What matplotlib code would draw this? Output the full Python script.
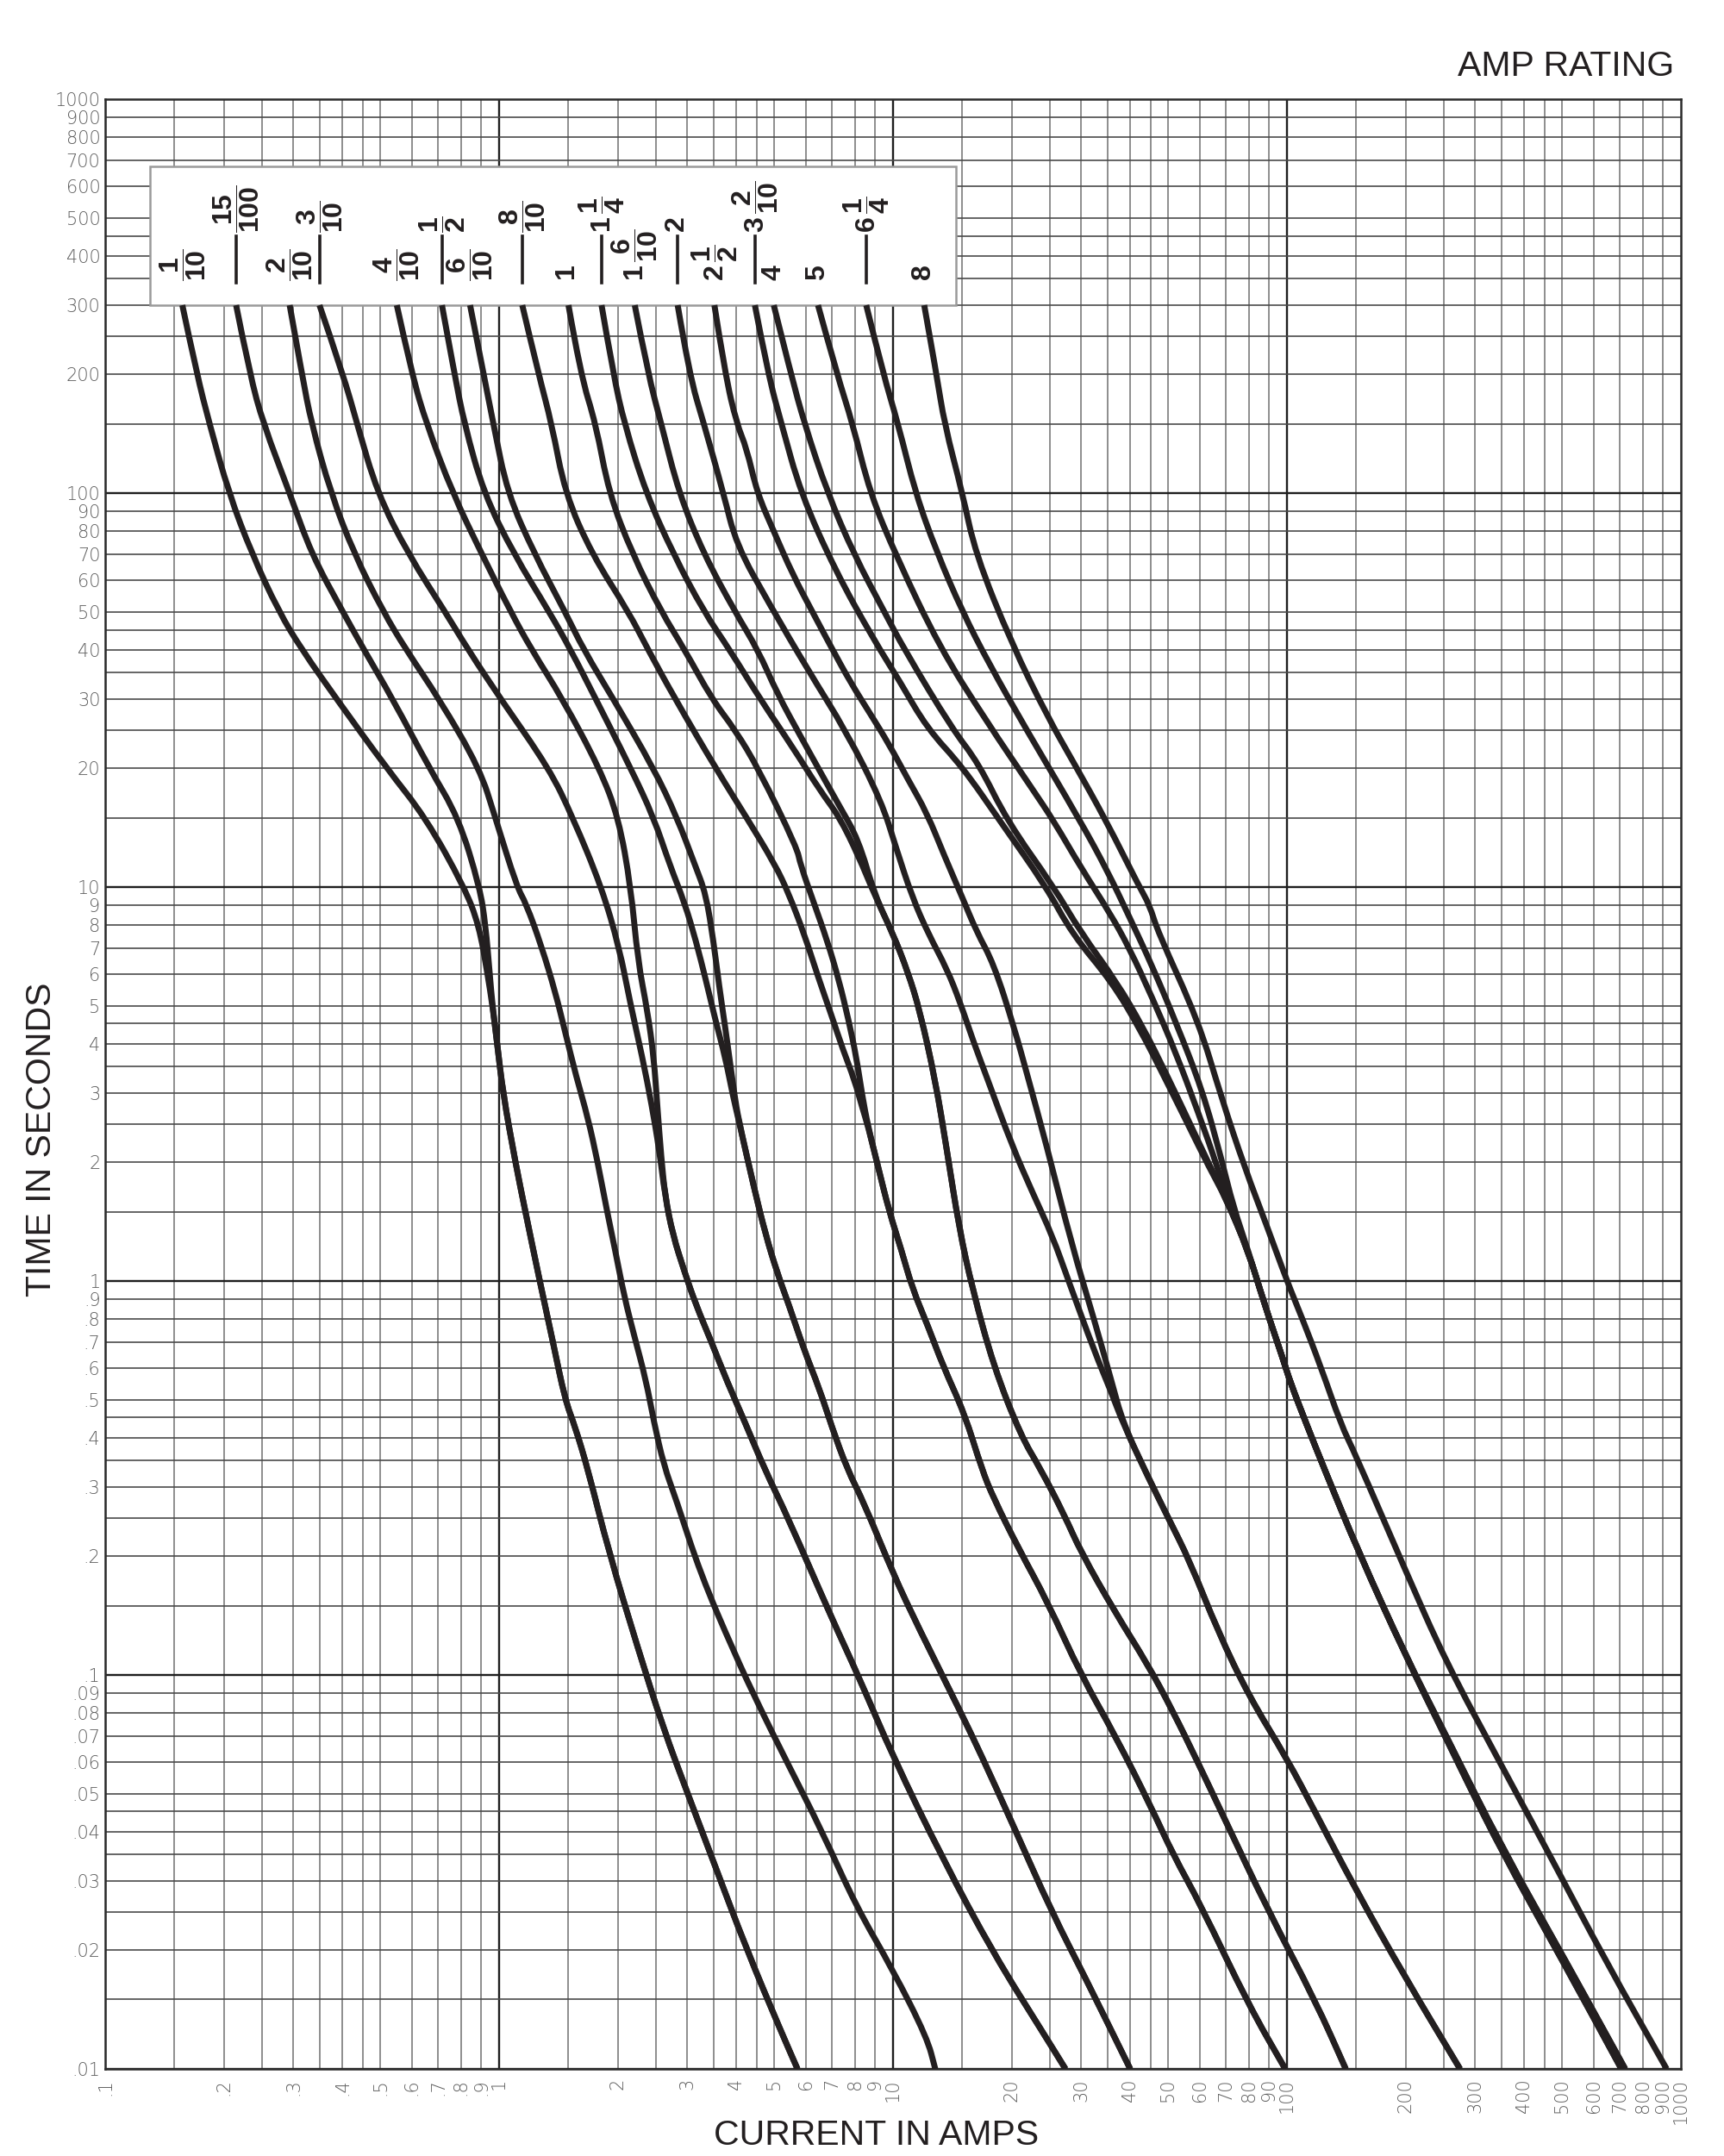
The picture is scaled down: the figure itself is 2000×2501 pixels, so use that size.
import numpy as np
import matplotlib.pyplot as plt
from matplotlib.patches import Rectangle, PathPatch
from matplotlib.path import Path

plt.rcParams['mathtext.default'] = 'regular'

# ---- curves: amps vs seconds ----
amps_1_10 = [0.157, 0.171, 0.184, 0.206, 0.236, 0.276, 0.316, 0.387, 0.519, 0.651, 0.816, 0.889, 0.935]
secs_1_10 = [300, 200, 150, 100, 70, 50, 40, 30, 20, 15, 10, 8, 6]
amps_15_100 = [0.215, 0.233, 0.252, 0.294, 0.334, 0.401, 0.454, 0.537, 0.666, 0.789, 0.893, 0.924, 0.947]
secs_15_100 = [300, 200, 150, 100, 70, 50, 40, 30, 20, 15, 10, 8, 6]
# common low-time part of 1/10 and 15/100
tail_a_amps = [0.962, 0.989, 1.023, 1.10, 1.166, 1.268, 1.37, 1.47, 1.56, 1.68, 1.90, 2.25, 2.61, 3.02, 3.50, 4.25, 5.17, 5.72]
tail_a_secs = [5, 4, 3, 2, 1.5, 1, 0.7, 0.5, 0.426, 0.333, 0.205, 0.117, 0.0733, 0.0496, 0.0336, 0.0201, 0.0126, 0.01]

amps_2_10 = [0.294, 0.316, 0.334, 0.374, 0.429, 0.508, 0.581, 0.705, 0.893, 0.978, 1.11, 1.17, 1.28, 1.39, 1.47,
             1.57, 1.68, 1.78, 1.88, 1.97, 2.08, 2.20, 2.36, 2.47, 2.62, 2.81, 3.25, 3.95, 4.58, 5.43, 6.61, 8.04,
             10.0, 12.2, 12.8]
secs_2_10 = [300, 200, 150, 100, 70, 50, 40, 30, 20, 15, 10, 9.1, 7.1, 5.4, 4.3, 3.3, 2.6, 2.0, 1.5, 1.2, 0.91,
             0.73, 0.56, 0.44, 0.34, 0.28, 0.18, 0.114, 0.083, 0.059, 0.040, 0.026, 0.0178, 0.012, 0.01]

amps_3_10 = [0.350, 0.402, 0.436, 0.491, 0.588, 0.729, 0.835, 1.01, 1.34, 1.54, 1.82, 2.02, 2.15, 2.31, 2.44, 2.55]
secs_3_10 = [300, 200, 150, 100, 70, 50, 40, 30, 20, 15, 10, 7, 5.1, 3.7, 2.8, 2.15]
amps_4_10 = [0.550, 0.601, 0.654, 0.762, 0.904, 1.07, 1.21, 1.45, 1.80, 2.01, 2.16, 2.25, 2.38, 2.47, 2.52, 2.58]
secs_4_10 = [300, 200, 150, 100, 70, 50, 40, 30, 20, 15, 10, 6.5, 4.85, 3.7, 2.8, 2.06]
tail_b_amps = [2.64, 2.76, 2.96, 3.16, 3.46, 3.79, 4.20, 4.72, 5.43, 6.93, 8.22, 10.0, 13.4, 18.0, 24.1, 27.4]
tail_b_secs = [1.64, 1.31, 1.05, 0.87, 0.70, 0.556, 0.44, 0.333, 0.249, 0.142, 0.098, 0.062, 0.034, 0.0196, 0.0123, 0.01]

amps_1_2 = [0.716, 0.771, 0.816, 0.914, 1.09, 1.34, 1.52, 1.76, 2.16, 2.47, 2.71, 2.96, 3.16, 3.35, 3.54, 3.75, 3.92]
secs_1_2 = [300, 200, 150, 100, 70, 50, 40, 30, 20, 15, 11.4, 9.1, 7.3, 5.8, 4.6, 3.7, 2.96]
amps_6_10 = [0.844, 0.914, 0.967, 1.05, 1.23, 1.47, 1.64, 1.95, 2.47, 2.83, 3.14, 3.35, 3.50, 3.62, 3.75, 3.87, 3.96]
secs_6_10 = [300, 200, 150, 100, 70, 50, 40, 30, 20, 15, 11.4, 9.6, 7.3, 5.6, 4.4, 3.5, 2.96]
tail_c_amps = [4.05, 4.44, 4.75, 5.08, 5.44, 5.95, 6.51, 7.0, 7.65, 8.43, 10.0, 11.6, 14.8, 16.7, 20.3, 25.3, 30.8, 40.0]
tail_c_secs = [2.58, 1.72, 1.31, 1.05, 0.87, 0.667, 0.531, 0.425, 0.333, 0.274, 0.181, 0.132, 0.081, 0.063, 0.041,
               0.025, 0.017, 0.01]

amps_8_10 = [1.145, 1.26, 1.36, 1.47, 1.72, 2.13, 2.39, 2.80, 3.55, 4.25, 5.02, 5.44, 5.95, 6.44, 6.97, 7.46, 7.98, 8.35]
secs_8_10 = [300, 200, 150, 100, 70, 50, 40, 30, 20, 15, 11.4, 9.6, 7.6, 5.95, 4.74, 3.87, 3.24, 2.76]
amps_1 = [1.50, 1.61, 1.76, 1.90, 2.18, 2.58, 2.96, 3.47, 3.98, 4.55, 5.70, 5.82, 6.30, 6.81, 7.29, 7.71, 8.07, 8.35]
secs_1 = [300, 200, 150, 100, 70, 50, 40, 30, 25, 20, 12.6, 11.4, 9.1, 7.3, 5.8, 4.6, 3.7, 2.96]
tail_d_amps = [8.64, 9.14, 9.78, 10.5, 11.2, 12.3, 13.4, 15.2, 16.8, 18.0, 20.8, 24.7, 30.0, 36.7, 45.3, 51.4, 60.5,
               80.0, 99.0]
tail_d_secs = [2.47, 1.97, 1.50, 1.20, 0.956, 0.763, 0.608, 0.46, 0.333, 0.281, 0.21, 0.153, 0.1, 0.07, 0.046,
               0.035, 0.026, 0.0145, 0.01]

amps_1_1_4 = [1.82, 1.95, 2.08, 2.36, 2.77, 3.31, 3.85, 4.60, 5.57, 6.52, 7.30, 8.17]
secs_1_1_4 = [300, 200, 150, 100, 70, 50, 40, 30, 22.6, 17.6, 15.1, 12.0]
amps_1_6_10 = [2.21, 2.39, 2.58, 2.86, 3.31, 3.97, 4.54, 5.09, 5.83, 6.52, 7.30, 8.17]
secs_1_6_10 = [300, 200, 150, 100, 70, 50, 40, 30.9, 24.1, 19.7, 16.1, 13.2]
tail_e_amps = [9.0, 10.0, 10.9, 11.7, 12.8, 13.7, 14.7, 15.9, 18.0, 21.1, 23.7, 27.2, 30.0, 36.5, 44.4, 51.3, 59.4,
               68.2, 89.8, 118, 141]
tail_e_secs = [9.5, 7.6, 6.1, 4.85, 3.24, 2.15, 1.37, 0.956, 0.608, 0.405, 0.333, 0.255, 0.205, 0.145, 0.106, 0.081,
               0.060, 0.0448, 0.0251, 0.0149, 0.01]

amps_2 = [2.84, 3.04, 3.31, 3.71, 4.0, 4.87, 6.10, 7.63, 9.35, 10.2, 11.2, 12.3, 13.7, 14.8, 16.0, 17.3, 20.0, 22.7,
          25.4, 27.9, 32.5, 35.6]
secs_2 = [300, 200, 150, 100, 74, 52, 35.4, 24.7, 16.5, 12.5, 9.4, 7.6, 6.2, 5.1, 4.05, 3.29, 2.22, 1.66, 1.30, 1.0,
          0.66, 0.53]
amps_2_1_2 = [3.52, 3.75, 4.01, 4.25, 4.52, 4.98, 5.57, 6.24, 6.98, 7.81, 8.74, 9.78, 10.9, 12.2, 13.5, 15.0, 16.3,
              18.0, 20.3, 22.0, 24.5, 28.4, 32.5, 35.8]
secs_2_1_2 = [300, 200, 150, 130, 100, 80, 62, 50, 40.5, 33, 27.6, 23, 18.8, 15.4, 12, 9.4, 7.7, 6.4, 4.4, 3.29,
              2.22, 1.24, 0.79, 0.56]
tail_f_amps = [38.4, 44.4, 50.1, 56.6, 66.8, 80.0, 100, 118, 149, 200, 275]
tail_f_secs = [0.434, 0.318, 0.249, 0.195, 0.129, 0.0885, 0.0613, 0.0448, 0.0287, 0.017, 0.01]

amps_3_2_10 = [4.46, 4.82, 5.21, 5.83, 7.14, 8.94, 10.4, 12.2, 15.0, 18.7, 24.5, 28.5, 36.0, 42.3, 48.5, 55.5, 63.5, 69.8]
secs_3_2_10 = [300, 200, 150, 100, 63.5, 42.4, 33.3, 25.3, 20.2, 14.7, 10, 7.6, 5.73, 4.37, 3.34, 2.55, 1.94, 1.63]
amps_4 = [4.98, 5.51, 5.96, 6.82, 7.98, 9.5, 10.7, 14.1, 16.5, 19.5, 25.6, 29.9, 37.0, 43.3, 49.5, 56.3, 64.0, 69.8]
secs_4 = [300, 200, 150, 100, 69.5, 50, 40, 25.3, 20.6, 14.7, 10, 7.7, 5.73, 4.37, 3.34, 2.55, 1.94, 1.63]
amps_5 = [6.45, 7.21, 7.90, 8.74, 10.2, 13.1, 17.2, 22.7, 25.6, 30.0, 35.5, 39.8, 45.5, 52.1, 59.6, 66.7, 71.4]
secs_5 = [300, 200, 150, 100, 69, 40.8, 26.5, 17.6, 14.7, 11.2, 8.6, 7.0, 5.24, 3.82, 2.67, 1.94, 1.55]
amps_6_1_4 = [8.55, 9.45, 10.3, 11.4, 12.9, 15.0, 17.5, 21.7, 29.9, 35.0, 39.8, 45.5, 52.1, 61.0, 68.2, 73.0]
secs_6_1_4 = [300, 200, 150, 100, 71, 50, 37, 25.3, 14.7, 11, 8.4, 6.3, 4.57, 3.05, 2.04, 1.55]
# after the crossing knot near 75 A / 1.5 s
tail_g_amps = [79.8, 87.3, 97.8, 102, 112, 124, 152, 200, 252, 347, 501, 706]
tail_h_amps = [79.8, 87.3, 97.8, 102, 112, 124, 152, 200, 254, 352, 510, 722]
tail_g_secs = [1.19, 0.885, 0.632, 0.553, 0.434, 0.336, 0.205, 0.112, 0.0698, 0.0363, 0.0188, 0.01]

amps_8 = [12.0, 12.9, 13.5, 15.0, 16.2, 20.0, 24.7, 28.9, 34.8, 42.0, 44.8, 47.0, 59.6, 68.2, 78.1, 89.4, 100, 109,
          122, 137, 149, 200, 252, 347, 468, 644, 920]
secs_8 = [300, 200, 150, 100, 70, 41.5, 27, 20.5, 14.7, 10.1, 9, 7.7, 4.57, 2.92, 1.94, 1.36, 1.0, 0.81, 0.604,
          0.433, 0.364, 0.184, 0.109, 0.06, 0.0344, 0.0188, 0.01]

curves = [
    (amps_1_10 + tail_a_amps, secs_1_10 + tail_a_secs),
    (amps_15_100 + tail_a_amps, secs_15_100 + tail_a_secs),
    (amps_2_10, secs_2_10),
    (amps_3_10 + tail_b_amps, secs_3_10 + tail_b_secs),
    (amps_4_10 + tail_b_amps, secs_4_10 + tail_b_secs),
    (amps_1_2 + tail_c_amps, secs_1_2 + tail_c_secs),
    (amps_6_10 + tail_c_amps, secs_6_10 + tail_c_secs),
    (amps_8_10 + tail_d_amps, secs_8_10 + tail_d_secs),
    (amps_1 + tail_d_amps, secs_1 + tail_d_secs),
    (amps_1_1_4 + tail_e_amps, secs_1_1_4 + tail_e_secs),
    (amps_1_6_10 + tail_e_amps, secs_1_6_10 + tail_e_secs),
    (amps_2 + tail_f_amps, secs_2 + tail_f_secs),
    (amps_2_1_2 + tail_f_amps, secs_2_1_2 + tail_f_secs),
    (amps_3_2_10 + tail_g_amps, secs_3_2_10 + tail_g_secs),
    (amps_4 + tail_g_amps, secs_4 + tail_g_secs),
    (amps_5 + tail_h_amps, secs_5 + tail_g_secs),
    (amps_6_1_4 + tail_h_amps, secs_6_1_4 + tail_g_secs),
    (amps_8, secs_8),
]

rating_labels = [r'$\dfrac{1}{10}$', r'$\dfrac{15}{100}$', r'$\dfrac{2}{10}$', r'$\dfrac{3}{10}$',
                 r'$\dfrac{4}{10}$', r'$\dfrac{1}{2}$', r'$\dfrac{6}{10}$', r'$\dfrac{8}{10}$', r'$1$',
                 r'$1\,\dfrac{1}{4}$', r'$1\,\dfrac{6}{10}$', r'$2$', r'$2\,\dfrac{1}{2}$', r'$3\,\dfrac{2}{10}$',
                 r'$4$', r'$5$', r'$6\,\dfrac{1}{4}$', r'$8$']
raised = [0, 1, 0, 1, 0, 1, 0, 1, 0, 1, 0, 1, 0, 1, 0, 0, 1, 0]

x_ticks = [0.1, 0.2, 0.3, 0.4, 0.5, 0.6, 0.7, 0.8, 0.9, 1, 2, 3, 4, 5, 6, 7, 8, 9,
           10, 20, 30, 40, 50, 60, 70, 80, 90, 100, 200, 300, 400, 500, 600, 700, 800, 900, 1000]
y_ticks = [0.01, 0.02, 0.03, 0.04, 0.05, 0.06, 0.07, 0.08, 0.09, 0.1, 0.2, 0.3, 0.4, 0.5, 0.6, 0.7, 0.8, 0.9,
           1, 2, 3, 4, 5, 6, 7, 8, 9, 10, 20, 30, 40, 50, 60, 70, 80, 90,
           100, 200, 300, 400, 500, 600, 700, 800, 900, 1000]


def tick_text(v):
    if v < 0.1:
        return '.0%d' % round(v * 100)
    if v < 1:
        return '.%d' % round(v * 10)
    return '%d' % round(v)


def curve_path(a, s):
    # smooth drawing: quadratic pieces through the log-space midpoints of the read points
    la, ls = np.log10(a), np.log10(s)
    verts = [(a[0], s[0])]
    codes = [Path.MOVETO]
    for i in range(1, len(a) - 1):
        mid = (10 ** ((la[i] + la[i + 1]) / 2), 10 ** ((ls[i] + ls[i + 1]) / 2))
        verts += [(a[i], s[i]), mid]
        codes += [Path.CURVE3, Path.CURVE3]
    verts.append((a[-1], s[-1]))
    codes.append(Path.LINETO)
    return Path(verts, codes)


fig = plt.figure(figsize=(20, 25.01), dpi=100)
ax = fig.add_axes([0.061, 0.0404, 0.914, 0.9136])
ax.set_xscale('log')
ax.set_yscale('log')
ax.set_xlim(0.1, 1000)
ax.set_ylim(0.01, 1000)

# chart-paper grid: 1, 1.5, 2, 2.5 ... 9 in every decade
steps = [1, 1.5, 2, 2.5, 3, 3.5, 4, 4.5, 5, 6, 7, 8, 9]
for e in range(-1, 3):
    for m in steps:
        v = m * 10.0 ** e
        if m == 1:
            ax.axvline(v, color='#1e1e1e', lw=1.7, zorder=1)
        else:
            ax.axvline(v, color='#7a7a7a', lw=1.2, zorder=1)
for e in range(-2, 3):
    for m in steps:
        v = m * 10.0 ** e
        if m == 1:
            ax.axhline(v, color='#1e1e1e', lw=1.7, zorder=1)
        else:
            ax.axhline(v, color='#4a4a4a', lw=1.2, zorder=1)

for sp in ax.spines.values():
    sp.set_color('#2a2a2a')
    sp.set_linewidth(1.8)

ax.xaxis.set_major_locator(plt.FixedLocator(x_ticks))
ax.yaxis.set_major_locator(plt.FixedLocator(y_ticks))
ax.xaxis.set_minor_locator(plt.NullLocator())
ax.yaxis.set_minor_locator(plt.NullLocator())
ax.set_xticklabels([tick_text(v) for v in x_ticks], rotation=90, va='top')
ax.set_yticklabels([tick_text(v) for v in y_ticks])
ax.tick_params(length=0, labelsize=15, labelcolor='#5e5e5e')
ax.tick_params(axis='x', pad=8)
ax.tick_params(axis='y', pad=4)
for lab in ax.get_xticklabels() + ax.get_yticklabels():
    lab.set_family(['DejaVu Sans'])
    lab.set_fontweight('light')

# rating box
ax.add_patch(Rectangle((0.13, 300), 14.45 - 0.13, 675 - 300, facecolor='white',
                       edgecolor='#9a9a9a', lw=1.8, zorder=3))

for (a, s) in curves:
    ax.add_patch(PathPatch(curve_path(a, s), fill=False, edgecolor='#231f20', lw=5.0,
                           capstyle='butt', joinstyle='round', zorder=4))

for i, lab in enumerate(rating_labels):
    x0 = curves[i][0][0]
    if raised[i]:
        ax.plot([x0, x0], [342, 450], color='#231f20', lw=2.6, zorder=5)
        ax.text(x0, 458, lab, rotation=90, ha='center', va='bottom', fontsize=23,
                family='Liberation Sans', fontweight='bold', color='#231f20', zorder=6)
    else:
        ax.text(x0, 346, lab, rotation=90, ha='center', va='bottom', fontsize=23,
                family='Liberation Sans', fontweight='bold', color='#231f20', zorder=6)

title_font = ['Liberation Sans', 'DejaVu Sans']
fig.text(0.971, 0.9692, 'AMP RATING', ha='right', va='center', fontsize=29.5,
         family=title_font, color='#231f20')
fig.text(0.024, 0.4714, 'TIME IN SECONDS', ha='center', va='center', rotation=90,
         fontsize=29.5, family=title_font, color='#231f20')
fig.text(0.5085, 0.0096, 'CURRENT IN AMPS', ha='center', va='center', fontsize=29.5,
         family=title_font, color='#231f20')

fig.savefig('out.png', dpi=100)
